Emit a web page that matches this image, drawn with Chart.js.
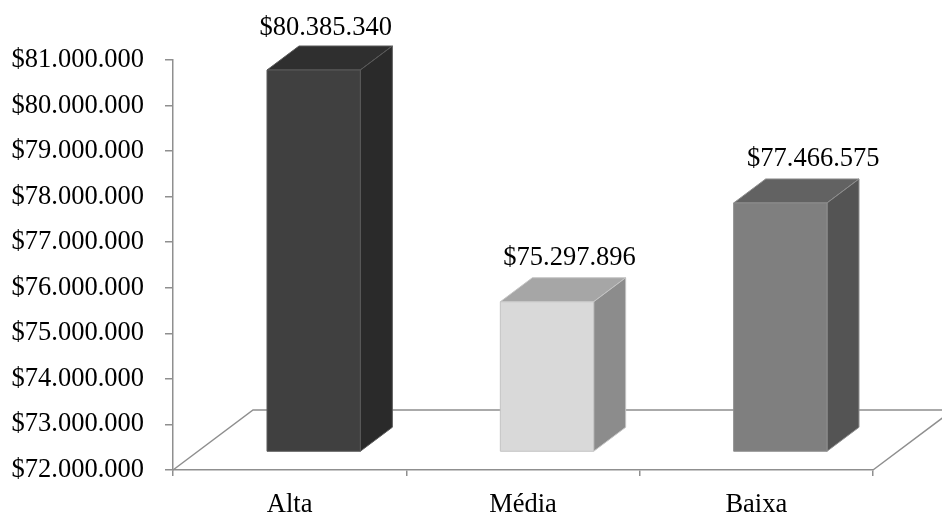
<!DOCTYPE html>
<html>
<head>
<meta charset="utf-8">
<title>Receita por cenário</title>
<script src="https://cdn.jsdelivr.net/npm/chart.js@4.4.1/dist/chart.umd.min.js"></script>
<style>
  html, body { margin: 0; padding: 0; background: #fff; }
  #wrap { width: 942px; height: 512px; }
</style>
</head>
<body>
<div id="wrap"><canvas id="chart" width="942" height="512"></canvas></div>
<script>
const categories = ['Alta', 'Média', 'Baixa'];
const values = [80385340, 75297896, 77466575];

const frontColors = ['#404040', '#d9d9d9', '#7f7f7f'];
const topColors = ['#2f2f2f', '#a6a6a6', '#626262'];
const sideColors = ['#2a2a2a', '#8c8c8c', '#545454'];
const edgeColors = ['#5a5a5a', '#c4c4c4', '#8e8e8e'];

const yMin = 72000000;
const yMax = 81000000;
const yStep = 1000000;

const axisColor = '#8f8f8f';
const fontFamily = "'Liberation Serif', 'Times New Roman', serif";
const fontSize = 26.5;

// floor depth in pixels, bars sit in the middle 40% of it
const floorDX = 80, floorDY = 60;

function money(v) {
  return '$' + String(Math.round(v)).replace(/\B(?=(\d{3})+(?!\d))/g, '.');
}

function poly(ctx, pts, fill, stroke) {
  ctx.beginPath();
  ctx.moveTo(pts[0][0], pts[0][1]);
  for (let i = 1; i < pts.length; i++) ctx.lineTo(pts[i][0], pts[i][1]);
  ctx.closePath();
  ctx.fillStyle = fill;
  ctx.fill();
  ctx.strokeStyle = stroke;
  ctx.lineWidth = 1;
  ctx.stroke();
}

const bars3d = {
  id: 'bars3d',
  beforeDatasetsDraw(chart) {
    const { ctx, chartArea: a } = chart;
    ctx.save();
    ctx.strokeStyle = axisColor;
    ctx.lineWidth = 1.5;
    ctx.beginPath();
    ctx.moveTo(a.left, a.bottom);
    ctx.lineTo(a.left + floorDX, a.bottom - floorDY);
    ctx.lineTo(a.right + floorDX, a.bottom - floorDY);
    ctx.lineTo(a.right, a.bottom);
    ctx.stroke();
    ctx.restore();
  },
  afterDatasetsDraw(chart) {
    const { ctx, chartArea: a } = chart;
    const meta = chart.getDatasetMeta(0);
    const offX = floorDX * 0.3, offY = floorDY * 0.3;
    const depX = floorDX * 0.4, depY = floorDY * 0.4;
    const catW = (a.right - a.left) / categories.length;
    ctx.save();
    meta.data.forEach((bar, i) => {
      const p = bar.getProps(['x', 'y', 'base', 'width'], true);
      const l = p.x - p.width / 2 + offX;
      const r = p.x + p.width / 2 + offX;
      const t = p.y - offY;
      const b = p.base - offY;
      poly(ctx, [[l, t], [l + depX, t - depY], [r + depX, t - depY], [r, t]], topColors[i], edgeColors[i]);
      poly(ctx, [[r, t], [r + depX, t - depY], [r + depX, b - depY], [r, b]], sideColors[i], edgeColors[i]);
      poly(ctx, [[l, t], [r, t], [r, b], [l, b]], frontColors[i], edgeColors[i]);

      // value label above the top face
      const shift = depX / 2 - 4 + (p.x - a.left - catW / 2) * 0.045;
      ctx.fillStyle = '#000';
      ctx.font = fontSize + 'px ' + fontFamily;
      ctx.textAlign = 'center';
      ctx.textBaseline = 'alphabetic';
      ctx.fillText(money(values[i]), p.x + offX + shift, Math.max(t - depY - 13, 35));
    });
    ctx.restore();
  }
};

new Chart(document.getElementById('chart'), {
  type: 'bar',
  data: {
    labels: categories,
    datasets: [{
      data: values,
      base: yMin,
      backgroundColor: 'rgba(0,0,0,0)',
      borderWidth: 0,
      categoryPercentage: 1,
      barPercentage: 0.4
    }]
  },
  options: {
    responsive: false,
    animation: false,
    layout: { padding: { top: 60, right: 69, left: 0, bottom: 0 } },
    plugins: {
      legend: { display: false },
      tooltip: { enabled: false }
    },
    scales: {
      y: {
        min: yMin,
        max: yMax,
        afterFit(scale) { scale.width = 173; },
        ticks: {
          stepSize: yStep,
          padding: 21,
          color: '#000',
          font: { family: fontFamily, size: fontSize },
          callback: v => money(v)
        },
        grid: { drawOnChartArea: false, tickLength: 8, color: axisColor, lineWidth: 1.5 },
        border: { display: true, color: axisColor, width: 1.5 }
      },
      x: {
        afterFit(scale) { scale.height = 42; },
        ticks: {
          padding: 13,
          color: '#000',
          font: { family: fontFamily, size: fontSize }
        },
        grid: { drawOnChartArea: false, offset: true, tickLength: 6, color: axisColor, lineWidth: 1.5 },
        border: { display: true, color: axisColor, width: 1.5 }
      }
    }
  },
  plugins: [bars3d]
});
</script>
</body>
</html>
